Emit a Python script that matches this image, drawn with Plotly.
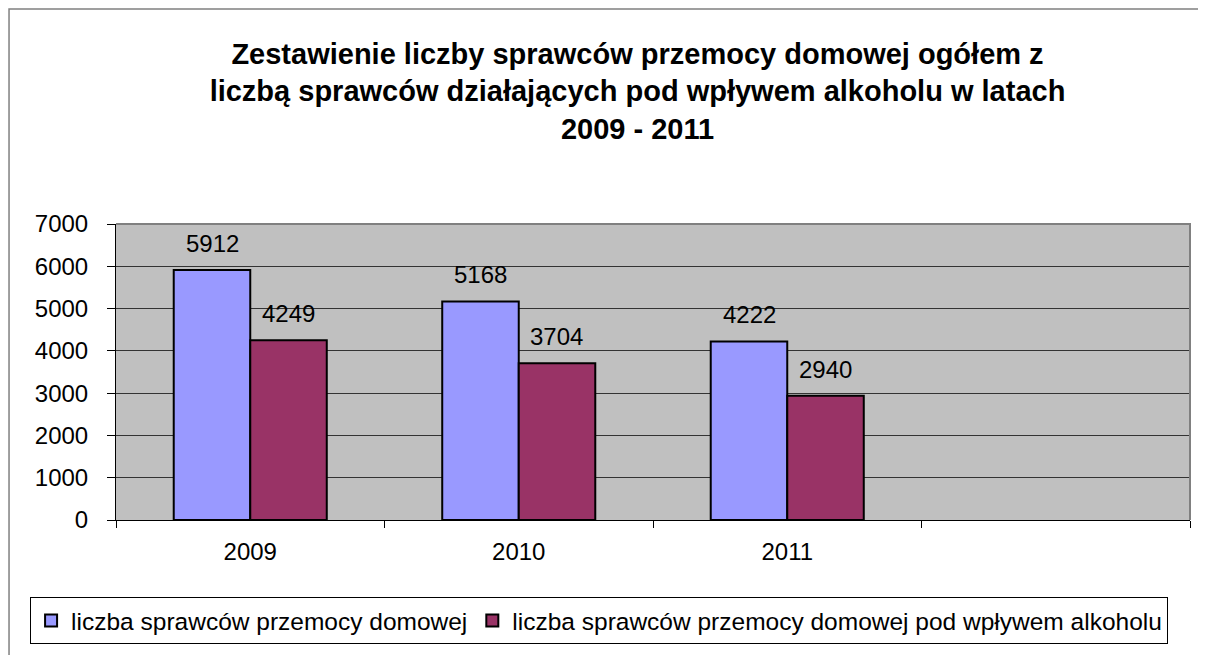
import plotly.graph_objects as go

# chart data
years = ["2009", "2010", "2011"]
all_categories = ["2009", "2010", "2011", " "]
sprawcy_ogolem = [5912, 5168, 4222]
sprawcy_alkohol = [4249, 3704, 2940]
series_names = [
    "liczba sprawców przemocy domowej",
    "liczba sprawców przemocy domowej pod wpływem alkoholu",
]
y_ticks = [0, 1000, 2000, 3000, 4000, 5000, 6000, 7000]

FONT = "Arial, Liberation Sans, sans-serif"

fig = go.Figure()
fig.add_trace(go.Bar(
    x=years, y=sprawcy_ogolem, name=series_names[0],
    marker=dict(color="#9999FF", line=dict(color="black", width=2)),
))
fig.add_trace(go.Bar(
    x=years, y=sprawcy_alkohol, name=series_names[1],
    marker=dict(color="#993366", line=dict(color="black", width=2)),
))

# value labels above each bar (x given as category index)
for vals, shift in [(sprawcy_ogolem, -38), (sprawcy_alkohol, 38)]:
    for i, v in enumerate(vals):
        fig.add_annotation(
            x=i, y=v, text=str(v), showarrow=False,
            xshift=shift, yshift=11, yanchor="bottom",
            font=dict(family=FONT, size=24, color="black"),
        )

# page has an 8px body margin, so the figure is 8px smaller than the window
W, H = 1198, 647
fig.update_layout(
    width=W,
    height=H,
    margin=dict(l=108, r=16, t=216, b=135, autoexpand=False),
    paper_bgcolor="white",
    plot_bgcolor="#C0C0C0",
    barmode="group",
    bargap=0.43,
    bargroupgap=0,
    font=dict(family=FONT, size=24, color="black"),
    title=dict(
        text="Zestawienie liczby sprawców przemocy domowej ogółem z<br>"
             "liczbą sprawców działających pod wpływem alkoholu w latach<br>"
             "2009 - 2011",
        font=dict(family=FONT, size=29, color="black", weight="bold"),
        xref="container", yref="container",
        x=629.5 / W, y=1 - 55.5 / H,
        xanchor="center", yanchor="middle",
    ),
    showlegend=True,
    legend=dict(
        orientation="h",
        x=-0.08, y=-0.26, xanchor="left", yanchor="top",
        bordercolor="black", borderwidth=1,
        bgcolor="white",
        font=dict(family=FONT, size=24.5, color="black"),
        traceorder="normal",
    ),
    shapes=[
        # top and right border of the plot area
        dict(type="path", xref="paper", yref="paper",
             path="M 0,1 L 1,1 L 1,0", line=dict(color="#808080", width=2),
             layer="above"),
        # outer chart frame
        dict(type="rect", xref="paper", yref="paper",
             x0=-0.0996, x1=1.3, y0=-0.47, y1=1.7264,
             line=dict(color="#808080", width=1.5), layer="below"),
    ],
)

fig.update_xaxes(
    type="category",
    categoryorder="array",
    categoryarray=all_categories,
    range=[-0.5, 3.5],
    tickson="boundaries",
    ticks="outside", ticklen=7, tickcolor="black", tickwidth=1,
    showline=True, linecolor="black", linewidth=1,
    showgrid=False,
    ticklabelstandoff=10,
    tickfont=dict(family=FONT, size=24, color="black"),
)
fig.update_yaxes(
    range=[0, 7000],
    tickvals=y_ticks,
    ticks="outside", ticklen=8, tickcolor="black", tickwidth=1,
    showline=True, linecolor="black", linewidth=1,
    showgrid=True, gridcolor="#333333", gridwidth=1,
    zeroline=False,
    ticklabelstandoff=14,
    tickfont=dict(family=FONT, size=24, color="black"),
)

fig.write_html("out.html")
